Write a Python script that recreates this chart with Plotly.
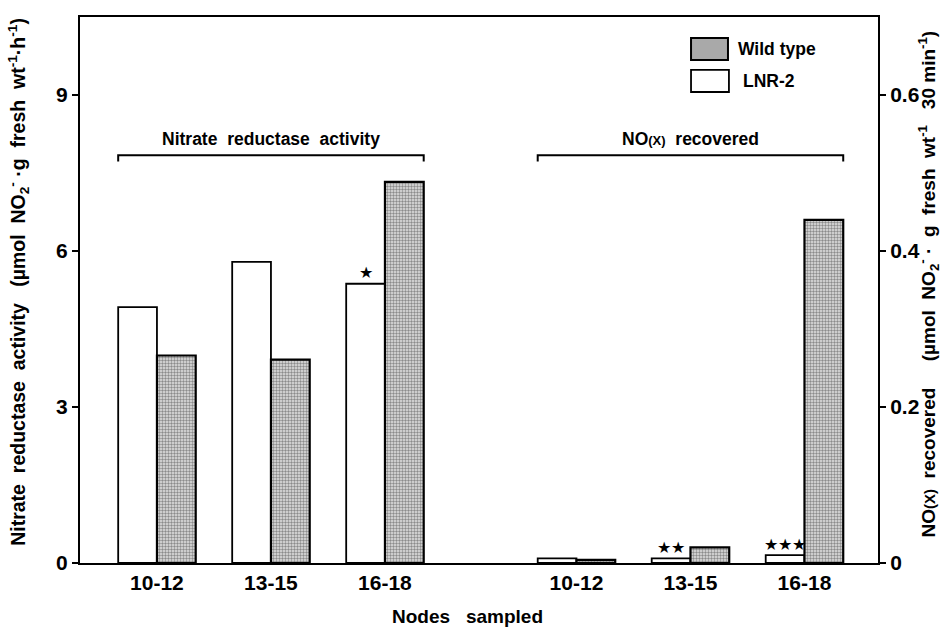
import plotly.graph_objects as go

# ---- data ----
nodes = ["10-12", "13-15", "16-18"]
nr_lnr2 = [4.92, 5.79, 5.37]      # Nitrate reductase activity, LNR-2
nr_wt = [3.99, 3.91, 7.33]        # Nitrate reductase activity, Wild type
nox_lnr2 = [0.006, 0.006, 0.010]  # NO(x) recovered, LNR-2
nox_wt = [0.004, 0.020, 0.44]     # NO(x) recovered, Wild type
nr_stars = ["", "", "★"]
nox_stars = ["", "★★", "★★★"]
left_ticks = [0, 3, 6, 9]
right_ticks = [0, 0.2, 0.4, 0.6]
right_ticktext = ["0", "0.2", "0.4", "0.6"]

# ---- layout helpers ----
FONT = "Liberation Sans, Arial, Helvetica, sans-serif"
group_gap = 3.68
bw = 0.34
pos_left = [i for i in range(len(nodes))]
pos_right = [i + group_gap for i in range(len(nodes))]

wt_pattern = dict(shape=".", fgcolor="#333333", bgcolor="#e2e2e2", size=3, solidity=0.5)

fig = go.Figure()
fig.add_trace(go.Bar(x=pos_left, y=nr_lnr2, width=bw, offset=-bw, name="LNR-2",
                     marker=dict(color="white", line=dict(color="black", width=1.8)),
                     showlegend=False))
fig.add_trace(go.Bar(x=pos_left, y=nr_wt, width=bw, offset=0, name="Wild type",
                     marker=dict(color="#d6d6d6", pattern=wt_pattern,
                                 line=dict(color="black", width=2.2)),
                     showlegend=False))
fig.add_trace(go.Bar(x=pos_right, y=nox_lnr2, width=bw, offset=-bw, name="LNR-2",
                     yaxis="y2",
                     marker=dict(color="white", line=dict(color="black", width=1.8)),
                     showlegend=False))
fig.add_trace(go.Bar(x=pos_right, y=nox_wt, width=bw, offset=0, name="Wild type",
                     yaxis="y2",
                     marker=dict(color="#d6d6d6", pattern=wt_pattern,
                                 line=dict(color="black", width=2.2)),
                     showlegend=False))

annotations = []
shapes = []

BOLD = dict(color="black", family=FONT, weight="bold")

# stars over LNR-2 bars
for p, v, s in zip(pos_left, nr_lnr2, nr_stars):
    if s:
        annotations.append(dict(x=p - bw / 2, y=v, xref="x", yref="y", text=s,
                                showarrow=False, yanchor="bottom", yshift=1,
                                font=dict(size=16, color="black")))
for p, v, s in zip(pos_right, nox_lnr2, nox_stars):
    if s:
        annotations.append(dict(x=p - bw / 2, y=v, xref="x", yref="y2", text=s,
                                showarrow=False, yanchor="bottom", yshift=0,
                                font=dict(size=16, color="black")))

# brackets
br_y = 7.84
drop = 0.12
for x0, x1, label in [(pos_left[0] - bw, pos_left[-1] + bw, "<b>Nitrate  reductase  activity</b>"),
                      (pos_right[0] - bw, pos_right[-1] + bw, "<b>NO<span style='font-size:13px'>(X)</span>  recovered</b>")]:
    shapes.append(dict(type="path", xref="x", yref="y",
                       path=f"M {x0},{br_y - drop} L {x0},{br_y} L {x1},{br_y} L {x1},{br_y - drop}",
                       line=dict(color="black", width=2)))
    annotations.append(dict(x=(x0 + x1) / 2, y=br_y, xref="x", yref="y", text=label,
                            showarrow=False, yanchor="bottom", yshift=4,
                            font=dict(size=17.5, **BOLD)))

# custom legend
shapes.append(dict(type="rect", xref="paper", yref="paper", x0=0.7657, x1=0.812,
                   y0=0.9212, y1=0.9615, fillcolor="#a9a9a9", line=dict(color="black", width=2)))
shapes.append(dict(type="rect", xref="paper", yref="paper", x0=0.7657, x1=0.8132,
                   y0=0.8626, y1=0.903, fillcolor="white", line=dict(color="black", width=1.8)))
annotations.append(dict(x=0.822, y=0.941, xref="paper", yref="paper", text="<b>Wild type</b>",
                        showarrow=False, xanchor="left", yanchor="middle",
                        font=dict(size=17.5, **BOLD)))
annotations.append(dict(x=0.828, y=0.883, xref="paper", yref="paper", text="<b>LNR-2</b>",
                        showarrow=False, xanchor="left", yanchor="middle",
                        font=dict(size=17.5, **BOLD)))

# axis titles
annotations.append(dict(x=0, y=0.515, xref="paper", yref="paper", xshift=-61, textangle=-90,
                        text="<span style='font-weight:bold'>Nitrate  reductase  activity</span><b>   (µmol  NO<sub>2</sub><sup>-</sup> ·g  fresh  wt<sup>-1</sup>·h<sup>-1</sup>)</b>",
                        showarrow=False, xanchor="center", yanchor="middle",
                        font=dict(size=19.5, **BOLD)))
annotations.append(dict(x=1, y=0.51, xref="paper", yref="paper", xshift=51, textangle=-90,
                        text="<b>NO<span style='font-size:15px'>(X)</span></b><span style='font-weight:bold'>  recovered</span><b>     (µmol  NO<sub>2</sub><sup>-</sup> ·  g  fresh  wt<sup>-1</sup>   30 min<sup>-1</sup>)</b>",
                        showarrow=False, xanchor="center", yanchor="middle",
                        font=dict(size=19, **BOLD)))
annotations.append(dict(x=0.486, y=0, xref="paper", yref="paper", yshift=-53,
                        text="<b>Nodes   sampled</b>", showarrow=False, xanchor="center", yanchor="middle",
                        font=dict(size=19, **BOLD)))

fig.update_layout(
    width=944, height=629,
    margin=dict(l=80, r=66, t=17, b=66),
    paper_bgcolor="white", plot_bgcolor="white",
    barmode="overlay",
    font=dict(family=FONT, color="black"),
    xaxis=dict(range=[-0.675, 6.325], tickvals=pos_left + pos_right, ticktext=nodes + nodes,
               showline=True, linecolor="black", linewidth=2, mirror=True,
               showgrid=False, zeroline=False, ticks="",
               tickfont=dict(size=21, **BOLD)),
    yaxis=dict(range=[0, 10.5], tickvals=left_ticks, showline=True, linecolor="black",
               linewidth=2, showgrid=False, zeroline=False, ticks="outside", ticklen=6,
               tickwidth=2, tickcolor="black",
               tickfont=dict(size=21, **BOLD)),
    yaxis2=dict(range=[0, 0.7], tickvals=right_ticks, ticktext=right_ticktext,
                overlaying="y", side="right", showline=True, linecolor="black",
                linewidth=2, showgrid=False, zeroline=False, ticks="outside", ticklen=6,
                tickwidth=2, tickcolor="black",
                tickfont=dict(size=21, **BOLD)),
    shapes=shapes,
    annotations=annotations,
)

fig.write_html("out.html")
